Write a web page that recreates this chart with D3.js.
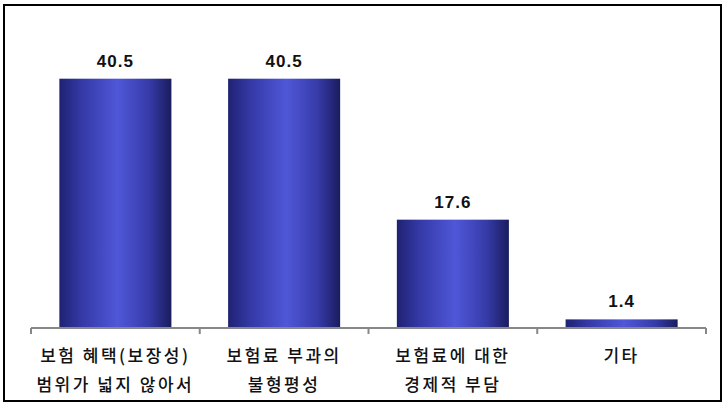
<!DOCTYPE html>
<html>
<head>
<meta charset="utf-8">
<script src="https://cdn.jsdelivr.net/npm/d3@7"></script>
<style>
  body { margin: 0; background: #fff; }
  .value { font-family: "Liberation Sans", Arial, sans-serif; font-weight: bold; font-size: 17px; fill: #111; letter-spacing: 1px; }
  .cat { font-family: "Noto Sans CJK KR", sans-serif; font-weight: 500; font-size: 17px; fill: #111; letter-spacing: 2.5px; }
</style>
</head>
<body>
<div class="chart"></div>
<script>
var categories = ["보험 혜택(보장성)|범위가 넓지 않아서", "보험료 부과의|불형평성", "보험료에 대한|경제적 부담", "기타"];
var values = [40.5, 40.5, 17.6, 1.4];
var valueLabels = ["40.5", "40.5", "17.6", "1.4"];

var svgWidth = 724;
var svgHeight = 407;
var margin = { top: 51, right: 18, bottom: 79, left: 31 };
var width = svgWidth - margin.left - margin.right;
var height = svgHeight - margin.top - margin.bottom;

var svg = d3.select(".chart")
  .append("svg")
  .attr("width", svgWidth)
  .attr("height", svgHeight);

// bar gradient: dark edges, light blue centre
var defs = svg.append("defs");
var grad = defs.append("linearGradient")
  .attr("id", "barGrad")
  .attr("x1", "0%").attr("x2", "100%")
  .attr("y1", "0%").attr("y2", "0%");
grad.append("stop").attr("offset", "0%").attr("stop-color", "#1f2272");
grad.append("stop").attr("offset", "20%").attr("stop-color", "#3439a6");
grad.append("stop").attr("offset", "52%").attr("stop-color", "#5057d8");
grad.append("stop").attr("offset", "80%").attr("stop-color", "#363ba8");
grad.append("stop").attr("offset", "100%").attr("stop-color", "#1a1c5e");

// outer frame
svg.append("rect")
  .attr("x", 4).attr("y", 5)
  .attr("width", 717).attr("height", 396)
  .attr("fill", "none")
  .attr("stroke", "#000")
  .attr("stroke-width", 2);

var chart = svg.append("g")
  .attr("transform", `translate(${margin.left}, ${margin.top})`);

var xScale = d3.scaleBand()
  .domain(categories)
  .range([0, width])
  .paddingInner(0.336)
  .paddingOuter(0.168);

var yScale = d3.scaleLinear()
  .domain([0, 45])
  .range([height, 0]);

chart.selectAll(".bar")
  .data(values)
  .enter().append("rect")
  .attr("class", "bar")
  .attr("x", function(d, i) { return xScale(categories[i]); })
  .attr("y", function(d) { return yScale(d); })
  .attr("width", xScale.bandwidth())
  .attr("height", function(d) { return height - yScale(d); })
  .attr("fill", "url(#barGrad)");

// value labels
chart.selectAll(".value")
  .data(values)
  .enter().append("text")
  .attr("class", "value")
  .attr("x", function(d, i) { return xScale(categories[i]) + xScale.bandwidth() / 2; })
  .attr("y", function(d) { return yScale(d) - 12; })
  .attr("text-anchor", "middle")
  .text(function(d, i) { return valueLabels[i]; });

// x axis with ticks between categories
var axis = chart.append("g")
  .attr("transform", `translate(0, ${height})`);
axis.append("line")
  .attr("x1", 0).attr("x2", width)
  .attr("y1", 0).attr("y2", 0)
  .attr("stroke", "#878787").attr("stroke-width", 2);
var step = xScale.step();
axis.selectAll(".tick")
  .data(d3.range(categories.length + 1))
  .enter().append("line")
  .attr("x1", function(i) { return i === categories.length ? width : i * step; })
  .attr("x2", function(i) { return i === categories.length ? width : i * step; })
  .attr("y1", 0).attr("y2", 6)
  .attr("stroke", "#878787").attr("stroke-width", 2);

// category labels (two lines)
var labels = axis.selectAll(".cat")
  .data(categories)
  .enter().append("text")
  .attr("class", "cat")
  .attr("text-anchor", "middle")
  .attr("x", function(d) { return xScale(d) + xScale.bandwidth() / 2; });
labels.selectAll("tspan")
  .data(function(d) { return d.split("|"); })
  .enter().append("tspan")
  .attr("x", function() { return d3.select(this.parentNode).attr("x"); })
  .attr("y", function(d, i) { return 34 + i * 29; })
  .text(function(d) { return d; });
</script>
</body>
</html>
